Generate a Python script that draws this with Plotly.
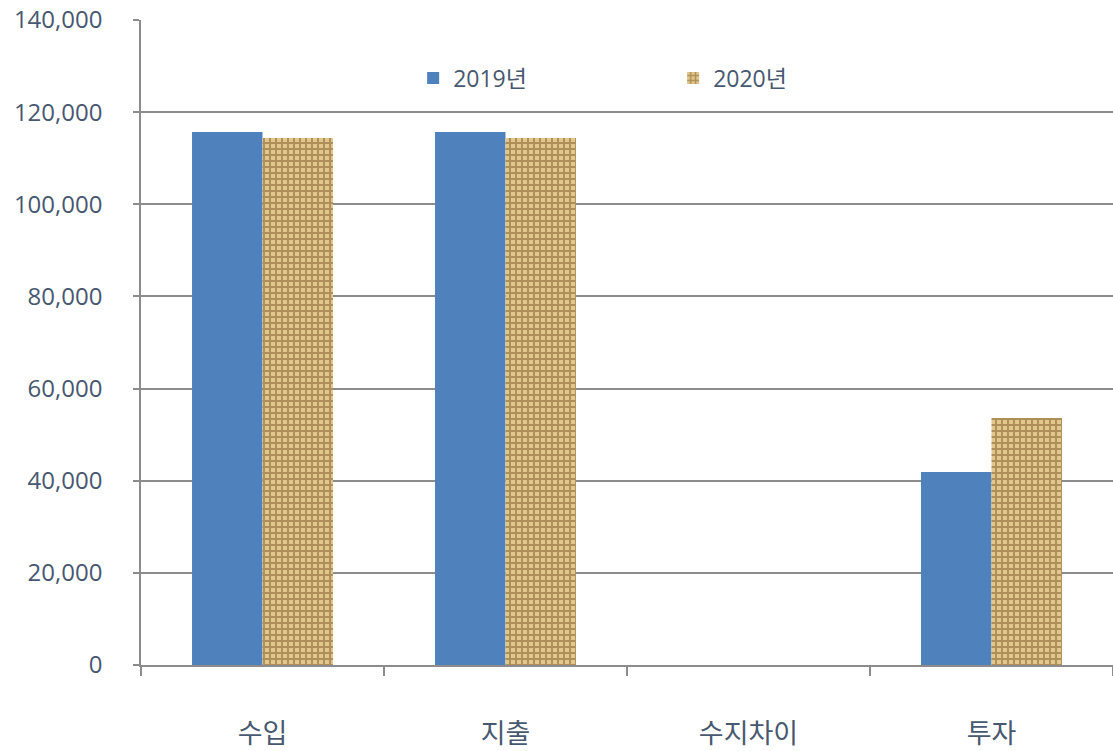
import plotly.graph_objects as go

categories = ["수입", "지출", "수지차이", "투자"]
values_2019 = [115700, 115700, 0, 41900]
values_2020 = [114400, 114400, 0, 53600]
series_names = ["2019년", "2020년"]
y_ticks = [0, 20000, 40000, 60000, 80000, 100000, 120000, 140000]
y_tick_labels = ["0", "20,000", "40,000", "60,000", "80,000", "100,000", "120,000", "140,000"]

font_family = "Open Sans, Noto Sans CJK KR, sans-serif"
text_color = "#475870"
grid_color = "#8C8C8C"

fig = go.Figure()
fig.add_trace(go.Bar(
    x=categories, y=values_2019, name=series_names[0],
    marker=dict(color="#4F81BD", line=dict(width=0)),
))
fig.add_trace(go.Bar(
    x=categories, y=values_2020, name=series_names[1],
    marker=dict(
        color="#D2B274",
        line=dict(width=0),
        pattern=dict(shape="+", fgcolor="#7A5828", bgcolor="#E2C78C",
                     size=6, solidity=0.55, fillmode="overlay"),
    ),
))

fig.update_layout(
    width=1113, height=751,
    margin=dict(l=141, r=0, t=20, b=86, autoexpand=False),
    paper_bgcolor="white", plot_bgcolor="white",
    barmode="group", bargap=0.42, bargroupgap=0,
    font=dict(family=font_family, color=text_color, size=20),
    showlegend=True,
    legend=dict(
        orientation="h", x=0.28, y=0.91, xanchor="left", yanchor="middle",
        entrywidth=215, entrywidthmode="pixels",
        font=dict(size=23, color=text_color), bgcolor="rgba(0,0,0,0)",
        itemwidth=30,
    ),
)
fig.update_yaxes(
    range=[0, 140000], tickvals=y_ticks, ticktext=y_tick_labels,
    showgrid=True, gridcolor=grid_color, gridwidth=1.5,
    showline=True, linecolor=grid_color, linewidth=1.5,
    ticks="outside", ticklen=6, tickcolor=grid_color, tickwidth=1.5,
    ticklabelstandoff=26, automargin=False,
    zeroline=False,
    tickfont=dict(size=24, color=text_color),
)
fig.update_xaxes(
    showgrid=False, showline=True, linecolor=grid_color, linewidth=1.5,
    ticks="outside", ticklen=9, tickcolor=grid_color, tickwidth=1.5,
    tickson="boundaries", ticklabelstandoff=44, automargin=False,
    tickfont=dict(size=27, color=text_color),
)

fig.write_html("out.html", config={"displayModeBar": False},
               post_script="document.body.style.margin='0';")
